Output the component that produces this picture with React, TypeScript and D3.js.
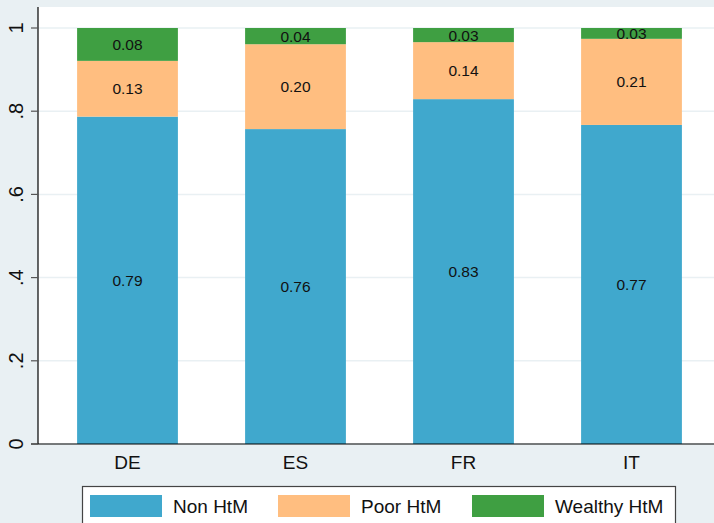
import React from 'react';
import * as d3 from 'd3';

const countries = ['DE', 'ES', 'FR', 'IT'];
const nonHtM = [0.787, 0.757, 0.829, 0.767];
const poorHtM = [0.134, 0.204, 0.137, 0.207];
const wealthyHtM = [0.079, 0.039, 0.034, 0.026];
const seriesNames = ['Non HtM', 'Poor HtM', 'Wealthy HtM'];
const seriesColors = ['#40a8cd', '#ffbe80', '#3f9f42'];
const yTicks = [0, 0.2, 0.4, 0.6, 0.8, 1];
const yTickLabels = ['0', '.2', '.4', '.6', '.8', '1'];

const W = 714;
const H = 523;
const FONT = 'Liberation Sans, Arial, Helvetica, sans-serif';

export default function App() {
    const x = d3.scaleBand<string>().domain(countries).range([43.5, 715.5]).paddingInner(0.4).paddingOuter(0.2);
    const y = d3.scaleLinear().domain([0, 1]).range([444, 28]);

    const rows = countries.map((c, i) => ({ country: c, 'Non HtM': nonHtM[i], 'Poor HtM': poorHtM[i], 'Wealthy HtM': wealthyHtM[i] }));
    const stacked = d3.stack<any>().keys(seriesNames)(rows);

    const legendX = [90, 278, 472];

    return (
        <div style={{ position: 'absolute', left: 0, top: 0 }}>
            <svg width={W} height={H} style={{ display: 'block', fontFamily: FONT }}>
                <rect x={0} y={0} width={W} height={H} fill="#e9f0f3" />
                {/* plot region */}
                <rect x={38} y={7} width={W - 38} height={437} fill="#ffffff" />
                {yTicks.map((t) => (
                    <line key={'g' + t} x1={38} x2={W} y1={y(t)} y2={y(t)} stroke="#e9f0f3" strokeWidth={1.5} />
                ))}
                {stacked.map((s, si) => (
                    <g key={s.key}>
                        {s.map((d, i) => {
                            const top = y(d[1]);
                            const bot = y(d[0]);
                            return (
                                <g key={i}>
                                    <rect x={x(countries[i])} y={top} width={x.bandwidth()} height={bot - top} fill={seriesColors[si]} />
                                    <text
                                        x={x(countries[i])! + x.bandwidth() / 2}
                                        y={(top + bot) / 2}
                                        dy="0.36em"
                                        textAnchor="middle"
                                        fontSize={15.5}
                                        fill="#111"
                                    >
                                        {(d[1] - d[0]).toFixed(2)}
                                    </text>
                                </g>
                            );
                        })}
                    </g>
                ))}
                {/* axes */}
                <line x1={38} x2={38} y1={7} y2={444} stroke="#000" strokeWidth={1.2} />
                <line x1={31} x2={W} y1={444} y2={444} stroke="#000" strokeWidth={1.2} />
                {yTicks.map((t, i) => (
                    <g key={'t' + t}>
                        <line x1={31} x2={38} y1={y(t)} y2={y(t)} stroke="#555" strokeWidth={1.2} />
                        <text
                            transform={`translate(16,${y(t)}) rotate(-90)`}
                            dy="0.36em"
                            textAnchor="middle"
                            fontSize={20}
                            fill="#111"
                        >
                            {yTickLabels[i]}
                        </text>
                    </g>
                ))}
                {countries.map((c) => (
                    <text key={c} x={x(c)! + x.bandwidth() / 2} y={469} textAnchor="middle" fontSize={19} fill="#111">
                        {c}
                    </text>
                ))}
                {/* legend */}
                <rect x={82.5} y={486.5} width={593} height={50} fill="#fff" stroke="#444" strokeWidth={1.2} />
                {seriesNames.map((n, i) => (
                    <g key={n}>
                        <rect x={legendX[i]} y={495} width={72} height={22} fill={seriesColors[i]} />
                        <text x={legendX[i] + 83} y={506} dy="0.36em" fontSize={19} fill="#111">
                            {n}
                        </text>
                    </g>
                ))}
            </svg>
        </div>
    );
}
